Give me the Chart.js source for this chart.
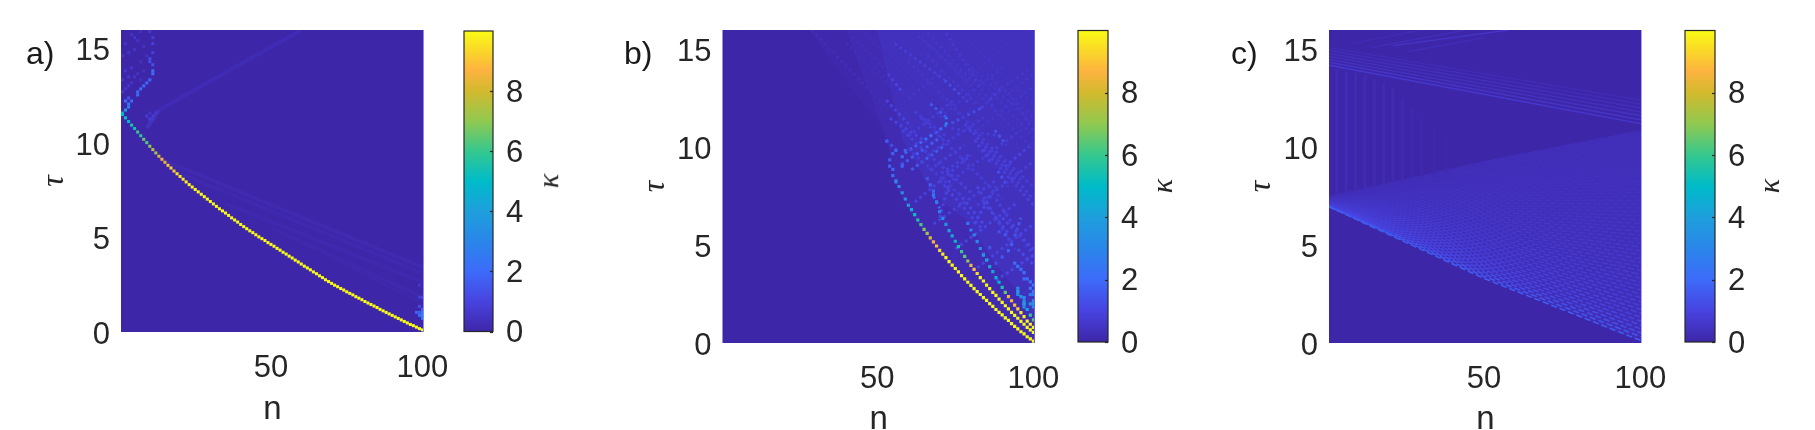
<!DOCTYPE html>
<html>
<head>
<meta charset="utf-8">
<title>kappa maps</title>
<script src="https://cdn.jsdelivr.net/npm/chart.js@4"></script>
<style>
  html, body { margin: 0; background: #fff; width: 1815px; height: 430px; overflow: hidden; }
  canvas { position: absolute; top: 0; }
  .tag { position: absolute; font: 32px "Liberation Sans"; color: #1a1a1a; line-height: 36px; }
  .kappa { position: absolute; font: italic 30px "Liberation Serif"; color: #262626; transform: rotate(-90deg); line-height: 30px; }
</style>
</head>
<body>
<script>
// ---- axis ticks
const nTicks = [50, 100];
const tauTicks = [0, 5, 10, 15];
const kappaTicks = [0, 2, 4, 6, 8];
const tauMax = 16;
const kappaMax = 10;
const tauPerRow = 0.16;

// colour bar stops: kappa value / colour
const mapKappa = [0, 1, 2, 3, 4, 5, 6, 7, 8, 8.7, 9.3, 10];
const mapColor = ['#3e26a8', '#4843e0', '#3d6bfa', '#2a86ea', '#1e9fdc', '#00bbc9', '#35c88f', '#90c950', '#d3ba2e', '#fdb340', '#fad52a', '#f9fb15'];

// ---- panel a: main ridge, one row per column n = 1..100
const aRidgeRow = [72,70.9,69.7,68.5,67.4,66.2,65,63.8,62.7,61.5,60.4,59.3,58.2,57.2,56.2,55.2,54.3,53.3,52.4,51.5,50.6,49.7,48.8,48,47.2,46.4,45.6,44.8,44,43.2,42.4,41.6,40.8,40.1,39.4,38.6,37.8,37.1,36.4,35.6,34.9,34.2,33.5,32.9,32.2,31.5,30.9,30.3,29.6,29,28.4,27.7,27.1,26.4,25.8,25.1,24.5,23.8,23.2,22.5,21.8,21.2,20.6,19.9,19.3,18.6,18,17.3,16.7,16.1,15.5,15,14.4,13.9,13.3,12.8,12.3,11.7,11.2,10.7,10.1,9.6,9.1,8.6,8.1,7.5,7,6.5,6,5.5,5,4.5,4,3.5,3,2.5,2.1,1.6,1.1,.7];
const aRidgeK = [5,5.3,5,5.6,5.4,6,5.8,6.5,6.3,7,7.6,7.2,8.1,8.6,8.3,9,9.3,9,9.5,9.6,9.7,9.8,9.8,9.9,9.9,10,10,10,10,10,10,10,10,10,10,10,10,10,10,10,10,10,10,10,10,10,10,10,10,10,10,10,10,10,10,10,10,10,10,10,10,10,10,10,10,10,10,10,10,10,10,10,10,10,10,10,10,10,10,10,10,10,10,10,10,10,10,10,10,10,10,10,10,10,10,10,10,10,10,10];
// panel a: separate cells (upper branch, top-left speckle, right corner)
const aCellN = [1,2,3,3,4,2,3,6,6,7,8,9,10,11,11,11,10,10,11,11,11,10, 1,2,3,4,3,1,2,5,6,4,1,3,5,2,6,5,4,7,7,8,9,8,7,9,10,11,12,10,11, 98,99,99,100,100,100,100,99,99,100,99];
const aCellRow = [72.5,73.5,74.5,75.5,76.5,76.5,77.5,78.5,79.5,80.5,81.5,82.5,83.5,85.5,86.5,88.5,89.5,90.5,92.5,95.5,97.5,99.5, 79.5,80.5,81.5,82.5,84.5,83.5,86.5,84.5,85.5,87.5,91.5,92.5,93.5,95.5,96.5,97.5,98.5,89.5,83.5,86.5,91.5,94.5,99.5,71.5,70.5,71.5,72.5,72.5,70.5, 6.5,5.5,6.5,4.5,5.5,6.5,7.5,8.5,11.5,11.5,15.5];
const aCellK = [4.4,3.6,3,2.4,2.1,2,1.4,2.2,2,2.2,2,1.9,1.9,2.2,2.1,1.3,1.2,1.2,.9,.9,.8,.7, .7,.6,.6,.55,.6,.55,.55,.55,.5,.55,.55,.55,.5,.5,.45,.55,.45,.4,.45,.4,.4,.4,.4,.75,.85,.85,.7,.55,.65, 1.8,2,1.6,2.8,3,2.6,1.7,1.2,.8,1,.6];
// panel a: faint lines
const aLineN0 = [13,9,13,20,35,50,70];
const aLineR0 = [73.5,67.5,57.5,52.5,42.5,34.5,24.5];
const aLineN1 = [60,13,100,100,100,100,100];
const aLineR1 = [100,73.5,21.5,19.5,16.5,11.5,9.5];
const aLineK = [.22,.4,.14,.12,.1,.09,.08];

// ---- panel b: ridges, one row per column starting at the given n
const b1Start = 56;
const b1Row = [51.8,50,48,46,44,42.6,41,39.3,37.8,36.3,35,33.6,32.3,31,29.6,28.4,27.3,26,24.9,23.8,22.7,21.5,20.5,19.4,18.4,17.4,16.4,15.5,14.5,13.6,12.6,11.7,10.7,9.8,9,8,7.2,6.2,5.3,4.5,3.6,2.9,2,1.3,.6];
const b1K = [2.8,3,3.3,3.6,4,4.6,5.2,5.7,6.2,6.8,7.3,8.2,8.7,9,9.4,9.7,10,10,10,10,10,10,10,10,10,10,10,10,10,10,10,10,10,10,10,10,10,10,10,10,10,10,10,10,10];
const b2Start = 68;
const b2Row = [47.3,45.1,42,39.8,37.9,35.9,34.2,32.5,30.8,29.2,27.7,26.2,24.8,23.5,22.2,20.9,19.8,18.5,17.4,16.2,15.2,14,13,11.9,10.9,9.8,8.8,7.9,6.9,6,5,4.2,3.4];
const b2K = [2.5,2.8,3,3.3,3.6,4,4.4,5,5.5,6,6.5,7,8.5,9,9.5,10,10,10,10,10,10,10,10,10,10,10,10,10,10,10,10,10,10];
const b3Start = 79;
const b3Row = [38.2,36.1,34.5,32.4,30.2,28.1,26.5,24.4,22.8,20.9,19.4,17.8,16.2,14.8,13.5,12.1,10.9,9.7,8.4,7,6,5];
const b3K = [2.5,2.7,2.9,3,3.3,3.7,4,4.3,4.5,4.6,5,5.5,6.5,8.5,8.8,9,9.3,9.6,9.8,10,10,10];
const b4Start = 95;
const b4Row = [16.4,14.8,12.5,10.7,8.9,7.4];
const b4K = [3.5,3.5,4,4.5,6,6.4];
// panel b: separate cells
const bCellN = [56,55,55,54,54,55,56,53,58,58,59, 94,95,96,97,97,98,99,100,99,100,100,99,95,95,95,97,97,97,97,100,100,100,99,92,93,91,90,88,86,89,84,82, 68,67,66];
const bCellRow = [51.5,53.5,55.5,56.5,58.5,60.5,61.5,64.5,56.5,59.5,61.5, 25.5,24.5,23.5,22.5,20.5,20.5,19.5,18.5,17.5,16.5,15.5,15.5,17.5,16.5,15.5,14.5,13.5,12.5,11.5,13.5,12.5,11.5,12.5,29.5,31.5,34.5,27.5,25.5,30.5,35.5,28.5,32.5, 48.5,50.5,52.5];
const bCellK = [2.6,2.2,1.9,1.8,1.7,1.7,1.9,1.5,1.8,2,1.8, 2.2,2.3,2.2,2.2,2,2.2,2.3,2.4,2.6,2.5,2.6,2.6,3.2,3.3,3.3,3.3,3.4,3.4,3.4,3.5,3.8,3.5,3.5,1.8,1.7,1.5,1.5,1.3,1.4,1.3,1.2,1.2, 1.9,1.6,1.4];
// panel b: web of dotted streaks
const bLineN0 = [57.7,60.9,58.8,65.2,72.1,72.1,73.7,83.3,89.7,66.8,55.6,71.6,53.5,52.9,54,52.9,73.7,87.6,90.8,86.5,81.2,70.5,88.6,68,70,81,94,63,66,72,80,76,84,90,95,29,40,56,46,66,76,85,92,62,70,82,88, 62,68,75,82,88,60,66,74,82,60,70,82,78,90, 58,60,64,72,78,84,60,70,80,64,48,42];
const bLineR0 = [56.9,55.3,60.6,64.9,69.6,72.1,70.2,75,81.4,55.3,95.7,84,86,77.6,71.8,64.8,68.6,68,56.3,62.7,64.9,54.2,55,47,40,38,34,98,92,99,87,48,45,40,30,100,96,98,99,99,92,86,80,74,52,50,46, 45,38,30,24,20,66,60,52,44,78,72,68,84,78, 68,62,72,78,70,62,90,92,96,98,90,98];
const bLineN1 = [70.5,71.8,65.2,72.1,72.1,66.3,83.3,89.7,98.2,78,71.6,79,58.3,60.9,65.7,56.1,90.8,91.3,99.8,99.8,86.5,80.1,91.8,70,74,88,96,80,82,88,100,84,92,100,100,54,58,83,70,86,100,100,100,72,84,94,100, 80,88,95,100,100,75,84,96,100,72,90,100,92,100, 80,78,90,96,100,100,84,100,100,78,60,56];
const bLineR1 = [65.9,63.3,64.9,69.6,72.1,77.1,75,81.4,87.2,63.3,84,77,79.8,69,64.3,61.7,65.9,63.3,63.8,50,57.4,60.6,50,43,55,50,40,84,76,74,66,38,35,30,25,74,78,78,75,78,70,72,68,66,36,30,28, 60,52,45,38,28,78,72,68,58,88,88,82,96,86, 48,46,46,52,46,44,66,62,76,84,76,84];
const bLineK = [1.6,1.6,1.8,2.1,2.8,1.5,1.2,.9,.6,.9,.8,1.1,1,1,1,1.3,.8,1.3,1,.8,1,.9,1.3,1.9,1,1.1,1.5,.55,.65,.7,.55,1.1,1.1,1.1,1.2,.3,.3,.45,.3,.55,.55,.55,.6,.8,1,1,1, .9,.9,1,1,1.1,.8,.8,.8,.85,.6,.6,.6,.5,.55, .9,.8,.8,.8,.85,.9,.55,.55,.5,.5,.35,.35];
// panel b: lighter zones, boundaries as n / tau
const bZone1N = [28,53,56,60,70,80,90,100.5];
const bZone1Tau = [16,10.5,8.2,6.9,4.6,2.9,1.3,.1];
const bZone1TopN = [28,100.5];
const bZone1K = .08;
const bZone2N = [40,53,56,60,70,80,90,100.5];
const bZone2Tau = [16,10.4,8.1,6.8,4.5,2.8,1.2,.1];
const bZone2TopN = [40,100.5];
const bZone2K = .18;
const bZone3N = [50,58,68,79,87,95,100.5];
const bZone3Tau = [16,10.4,7.6,6.2,4.2,2.6,1];
const bZone3TopN = [50,100.5];
const bZone3K = .38;
const bTopTau = [16,16];

// ---- panel c: fan from the left edge down to the right edge, tau at n = 1, 50, 100
const cFanLeft = [6.96,6.97,6.98,6.99,7,7.01,7.02,7.03,7.04,7.05,7.06,7.07,7.08,7.09,7.1,7.11,7.12,7.13,7.14,7.15,7.16,7.17,7.18,7.19,7.2,7.21,7.22,7.23,7.24,7.25,7.26,7.27,7.28,7.29,7.3,7.31,7.32,7.33,7.34,7.35,7.36,7.37,7.38,7.39,7.4,7.41,7.42,7.43,7.44,7.45,7.46,7.47,7.48,7.49,7.5];
const cFanMid = [3.3,3.41,3.52,3.63,3.74,3.85,3.96,4.07,4.18,4.29,4.4,4.51,4.62,4.73,4.84,4.95,5.06,5.17,5.28,5.39,5.5,5.61,5.72,5.83,5.94,6.05,6.16,6.27,6.38,6.49,6.6,6.71,6.82,6.93,7.04,7.15,7.26,7.37,7.48,7.59,7.7,7.81,7.92,8.03,8.14,8.25,8.36,8.47,8.58,8.69,8.8,8.91,9.02,9.1,9.2];
const cFanRight = [.1,.3,.5,.7,.9,1.1,1.3,1.5,1.7,1.9,2.1,2.3,2.5,2.7,2.9,3.1,3.3,3.5,3.7,3.9,4.1,4.3,4.5,4.7,4.9,5.1,5.3,5.5,5.7,5.9,6.1,6.3,6.5,6.7,6.9,7.1,7.3,7.5,7.7,7.9,8.1,8.3,8.5,8.7,8.9,9.1,9.3,9.5,9.7,9.9,10.1,10.3,10.5,10.7,10.85];
const cFanK = [1.7,1.5,1.35,1.2,1.1,1.05,1,.95,.95,.9,.9,.85,.85,.8,.8,.8,.75,.75,.75,.7,.7,.7,.65,.65,.65,.6,.6,.6,.6,.55,.55,.55,.5,.5,.5,.5,.45,.45,.45,.45,.4,.4,.4,.4,.35,.35,.35,.35,.3,.3,.3,.3,.3,.28,.25];
// panel c: region behind the fan
const cZoneN = [.5,50,100.5];
const cZoneLow = [6.96,3.3,.05];
const cZoneHigh = [7.5,9.3,10.9];
const cZoneK = .3;
// panel c: upper band, tau at n = 1 and n = 100
const cBandLeft = [14.2,14.35,14.5,14.65,14.8,14.95,15.1];
const cBandRight = [11.2,11.4,11.6,11.8,12,12.2,12.4];
const cBandK = [.7,.55,.45,.4,.35,.3,.25];
// panel c: short top band n0/tau0 -> n1/tau1
const cTopN0 = [21,14,26,8];
const cTopTau0 = [15.2,15.1,14.9,15.3];
const cTopN1 = [58,44,50,30];
const cTopTau1 = [16,16,15.6,16];
const cTopK = [.55,.3,.28,.22];
// panel c: faint vertical stripes on the left
const cStripeN = [3,6,9,12,15,18,21,24,27,30,34,38];
const cStripeLow = [7.5,7.6,7.7,7.8,7.9,8,8.1,8.2,8.3,8.4,8.5,8.6];
const cStripeHigh = [14,13.9,13.8,13.7,13.5,13.3,13,12.5,12,11.5,11,10.5];
const cStripeK = [.22,.24,.22,.22,.2,.18,.16,.14,.12,.1,.08,.07];

// ---- helpers
function hexToRgb(h) {
  return [parseInt(h.slice(1, 3), 16), parseInt(h.slice(3, 5), 16), parseInt(h.slice(5, 7), 16)];
}
function kappaColor(k) {
  let i = 0;
  while (i < mapKappa.length - 2 && k > mapKappa[i + 1]) i++;
  const t = Math.min(1, Math.max(0, (k - mapKappa[i]) / (mapKappa[i + 1] - mapKappa[i])));
  const a = hexToRgb(mapColor[i]), b = hexToRgb(mapColor[i + 1]);
  return 'rgb(' + a.map((v, j) => Math.round(v + (b[j] - v) * t)).join(',') + ')';
}
function rowTau(r) { return r * tauPerRow; }

function ridgeSet(start, rows, ks, radius) {
  return {
    type: 'scatter',
    data: rows.map((r, i) => ({ x: start + i, y: rowTau(r) })),
    pointStyle: 'rect', pointRadius: radius, pointBorderWidth: 0,
    pointBackgroundColor: ks.map(kappaColor), showLine: false
  };
}
function cellSet(ns, rows, ks, radius) {
  return {
    type: 'scatter',
    data: ns.map((n, i) => ({ x: n, y: rowTau(rows[i]) })),
    pointStyle: 'rect', pointRadius: radius, pointBorderWidth: 0,
    pointBackgroundColor: ks.map(kappaColor), showLine: false
  };
}
function lineSet(pts, k, width, dash, dashOffset) {
  return {
    type: 'scatter', data: pts, showLine: true, pointRadius: 0,
    borderColor: kappaColor(k), borderWidth: width, borderDash: dash || [], borderDashOffset: dashOffset || 0, borderCapStyle: 'butt'
  };
}
function rowLines(n0, r0, n1, r1, ks, width, dash) {
  return ks.map((k, i) => lineSet([{ x: n0[i], y: rowTau(r0[i]) }, { x: n1[i], y: rowTau(r1[i]) }], k, width, dash));
}
// region between a boundary and a second one; target is the dataset index of that second one
function zoneSets(firstIndex, ns, low, ns2, high, k) {
  return [
    { type: 'scatter', data: ns.map((n, i) => ({ x: n, y: low[i] })), showLine: true, pointRadius: 0, borderWidth: 0, fill: firstIndex + 1, backgroundColor: kappaColor(k) },
    { type: 'scatter', data: ns2.map((n, i) => ({ x: n, y: high[i] })), showLine: true, pointRadius: 0, borderWidth: 0, fill: false }
  ];
}

const framePlugin = {
  id: 'frame',
  beforeDatasetsDraw(chart) {
    const a = chart.chartArea, c = chart.ctx;
    c.save();
    c.fillStyle = kappaColor(0);
    c.fillRect(a.left, a.top, a.right - a.left, a.bottom - a.top);
    c.restore();
  },
  afterDraw(chart, args, opts) {
    const a = chart.chartArea, c = chart.ctx;
    c.save();
    c.strokeStyle = opts.edge;
    c.lineWidth = 1;
    c.beginPath();
    c.moveTo(a.right - 0.5, a.top);
    c.lineTo(a.right - 0.5, a.bottom);
    c.stroke();
    c.restore();
  }
};

function makePanel(box, datasets, edge) {
  const cv = document.createElement('canvas');
  const margin = 35;
  cv.width = box.right + margin - box.frame;
  cv.height = 430;
  cv.style.left = box.frame + 'px';
  document.body.appendChild(cv);
  datasets.forEach((d, i) => { d.order = -i; });
  new Chart(cv, {
    type: 'scatter',
    data: { datasets: datasets },
    plugins: [framePlugin],
    options: {
      responsive: false, animation: false, devicePixelRatio: 1,
      layout: { padding: { top: box.top, right: margin, left: 0, bottom: 0 } },
      plugins: { legend: { display: false }, tooltip: { enabled: false }, frame: { edge: edge } },
      scales: {
        x: {
          type: 'linear', min: 0.5, max: 100.5,
          grid: { display: false }, border: { display: false },
          afterBuildTicks: s => { s.ticks = nTicks.map(v => ({ value: v })); },
          afterFit: s => { s.height = 430 - box.bottom; s.paddingLeft = 0; s.paddingRight = 0; },
          ticks: { autoSkip: false, maxRotation: 0, padding: box.tickPad, color: '#262626', font: { family: 'Liberation Sans', size: 31 } },
          title: { display: true, text: 'n', color: '#262626', font: { family: 'Liberation Sans', size: 33 }, padding: { top: 0, bottom: box.nPad } }
        },
        y: {
          type: 'linear', min: 0, max: tauMax,
          grid: { display: false }, border: { display: false },
          afterBuildTicks: s => { s.ticks = tauTicks.map(v => ({ value: v })); },
          afterFit: s => { s.width = box.left - box.frame; s.paddingTop = 0; s.paddingBottom = 0; },
          ticks: { autoSkip: false, padding: 3, labelOffset: 3, color: '#262626', font: { family: 'Liberation Sans', size: 31 } },
          title: { display: true, text: 'τ', color: '#262626', font: { family: 'Liberation Serif', size: 32, style: 'italic' }, padding: { top: box.tauX - box.frame - 19, bottom: 0 } }
        }
      }
    }
  });
}

function makeBar(box) {
  const cv = document.createElement('canvas');
  const side = 60;
  cv.width = box.right - box.left + side + 3;
  cv.height = 430;
  cv.style.left = (box.left - 3) + 'px';
  document.body.appendChild(cv);
  const barFrame = {
    id: 'barFrame',
    afterDatasetsDraw(chart) {
      const a = chart.chartArea, c = chart.ctx, y = chart.scales.y;
      c.save();
      c.strokeStyle = '#262626';
      c.lineWidth = 1.2;
      c.strokeRect(a.left, a.top, a.right - a.left, a.bottom - a.top);
      kappaTicks.forEach(v => {
        const p = Math.round(y.getPixelForValue(v)) + 0.5;
        c.beginPath();
        c.moveTo(a.right - 3, p);
        c.lineTo(a.right, p);
        c.stroke();
      });
      c.restore();
    }
  };
  new Chart(cv, {
    type: 'bar',
    data: {
      labels: ['κ'],
      datasets: [{
        data: [[0, kappaMax]],
        barPercentage: 1, categoryPercentage: 1, borderWidth: 0,
        backgroundColor: ctx => {
          const a = ctx.chart.chartArea;
          if (!a) return mapColor[0];
          const g = ctx.chart.ctx.createLinearGradient(0, a.bottom, 0, a.top);
          mapKappa.forEach((k, i) => g.addColorStop(k / kappaMax, mapColor[i]));
          return g;
        }
      }]
    },
    plugins: [barFrame],
    options: {
      responsive: false, animation: false, devicePixelRatio: 1,
      layout: { padding: { top: box.top, bottom: 430 - box.bottom, left: 3, right: 0 } },
      plugins: { legend: { display: false }, tooltip: { enabled: false } },
      scales: {
        x: { display: false },
        y: {
          position: 'right', min: 0, max: kappaMax,
          grid: { display: false }, border: { display: false },
          afterBuildTicks: s => { s.ticks = kappaTicks.map(v => ({ value: v })); },
          afterFit: s => { s.width = side; s.paddingTop = 0; s.paddingBottom = 0; },
          ticks: { autoSkip: false, padding: 5, labelOffset: 2, color: '#262626', font: { family: 'Liberation Sans', size: 31 } }
        }
      }
    }
  });
}

function addText(cls, text, x, y) {
  const d = document.createElement('div');
  d.className = cls;
  d.textContent = text;
  d.style.left = x + 'px';
  d.style.top = y + 'px';
  document.body.appendChild(d);
}

// ---- panel a
const aBox = { frame: 0, left: 121, right: 424.5, top: 30, bottom: 332, tauX: 54, tickPad: 10, nPad: 0 };
const aR = 2.15;
makePanel(aBox, [
  ...rowLines(aLineN0, aLineR0, aLineN1, aLineR1, aLineK, 4),
  cellSet(aCellN, aCellRow, aCellK, aR),
  ridgeSet(1, aRidgeRow, aRidgeK, aR)
], '#9088e6');

// ---- panel b
const bBox = { frame: 610, left: 722.5, right: 1035.5, top: 30, bottom: 343, tauX: 655.5, tickPad: 10, nPad: -10 };
const bR = 2.25;
makePanel(bBox, [
  ...zoneSets(0, bZone1N, bZone1Tau, bZone1TopN, bTopTau, bZone1K),
  ...zoneSets(2, bZone2N, bZone2Tau, bZone2TopN, bTopTau, bZone2K),
  ...zoneSets(4, bZone3N, bZone3Tau, bZone3TopN, bTopTau, bZone3K),
  ...rowLines(bLineN0, bLineR0, bLineN1, bLineR1, bLineK, 3, [3, 3]),
  cellSet(bCellN, bCellRow, bCellK, bR),
  ridgeSet(b4Start, b4Row, b4K, bR),
  ridgeSet(b3Start, b3Row, b3K, bR),
  ridgeSet(b2Start, b2Row, b2K, bR),
  ridgeSet(b1Start, b1Row, b1K, bR)
], '#6a5ee0');

// ---- panel c
const cBox = { frame: 1215, left: 1329, right: 1642.5, top: 30, bottom: 343, tauX: 1261.7, tickPad: 10, nPad: -10 };
// every other ray has its dashes moved half a step, that gives the brick look
const cRays = cFanK.map((k, i) => lineSet([{ x: 0.5, y: cFanLeft[i] }, { x: 50, y: cFanMid[i] }, { x: 100.5, y: cFanRight[i] }], k, 1.5, [6, 3], i % 2 ? 4.5 : 0));
const cBand = cBandK.map((k, i) => lineSet([{ x: 0.5, y: cBandLeft[i] }, { x: 100.5, y: cBandRight[i] }], k, 1.4));
const cTop = cTopK.map((k, i) => lineSet([{ x: cTopN0[i], y: cTopTau0[i] }, { x: cTopN1[i], y: cTopTau1[i] }], k, 1.4));
const cStripes = cStripeK.map((k, i) => lineSet([{ x: cStripeN[i], y: cStripeLow[i] }, { x: cStripeN[i], y: cStripeHigh[i] }], k, 3));
makePanel(cBox, [
  ...zoneSets(0, cZoneN, cZoneLow, cZoneN, cZoneHigh, cZoneK),
  ...cStripes, ...cBand, ...cTop, ...cRays.reverse()
], '#a9a2ee');

makeBar({ left: 463.5, right: 492.5, top: 31, bottom: 331.5 });
makeBar({ left: 1077.5, right: 1107.5, top: 30.5, bottom: 342 });
makeBar({ left: 1684.5, right: 1714.5, top: 30.5, bottom: 342 });

addText('tag', 'a)', 26, 35);
addText('tag', 'b)', 624, 35);
addText('tag', 'c)', 1231, 35);
addText('kappa', 'κ', 541, 166);
addText('kappa', 'κ', 1155, 171);
addText('kappa', 'κ', 1762, 171);
</script>
</body>
</html>
